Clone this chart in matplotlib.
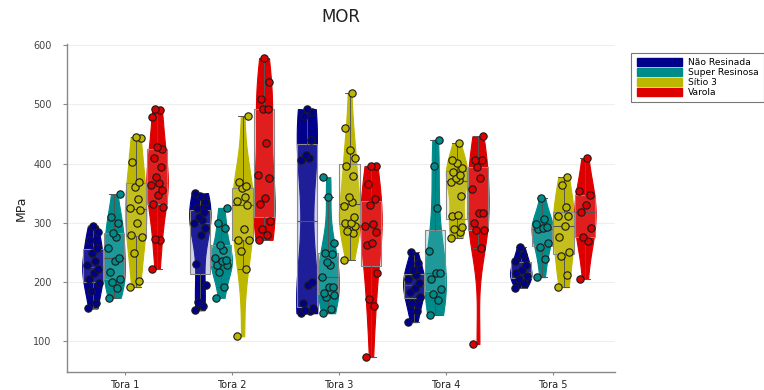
import numpy as np
import matplotlib
matplotlib.use("Agg")
import matplotlib.pyplot as plt
from matplotlib.patches import Patch
from matplotlib.colors import to_rgb

categories = ["Tora 1", "Tora 2", "Tora 3", "Tora 4", "Tora 5"]
series_names = ["Não Resinada", "Super Resinosa", "Sítio 3", "Varola"]
series_colors = ["#00008B", "#008B8B", "#BDB700", "#DD0000"]

nao_resinada = [
    [155, 165, 185, 198, 205, 215, 222, 228, 235, 248, 258, 270, 285, 295],
    [152, 160, 166, 195, 231, 280, 291, 299, 305, 310, 318, 325, 335, 345, 350],
    [147, 150, 152, 155, 165, 195, 200, 406, 410, 414, 440, 480, 488, 492],
    [132, 150, 165, 175, 183, 190, 198, 205, 212, 220, 232, 250],
    [190, 198, 205, 210, 215, 220, 228, 235, 245, 259],
]
super_resinosa = [
    [173, 190, 200, 205, 217, 235, 240, 257, 275, 282, 300, 309, 348],
    [173, 191, 216, 229, 229, 235, 237, 240, 254, 262, 291, 300, 325],
    [147, 154, 174, 178, 181, 191, 191, 208, 228, 234, 247, 249, 266, 344, 377],
    [144, 169, 180, 188, 205, 215, 215, 252, 325, 396, 440],
    [208, 239, 259, 266, 289, 291, 293, 297, 306, 342],
]
sitio_3 = [
    [191, 201, 249, 276, 279, 299, 321, 325, 340, 360, 369, 402, 443, 445],
    [108, 222, 252, 271, 271, 289, 330, 337, 343, 359, 362, 369, 480],
    [237, 282, 286, 294, 299, 299, 310, 328, 335, 344, 379, 396, 410, 423, 460, 519],
    [274, 284, 290, 293, 311, 313, 345, 368, 372, 376, 380, 386, 392, 401, 406, 434],
    [191, 211, 243, 251, 276, 295, 311, 311, 326, 364, 377],
]
varola = [
    [222, 270, 272, 326, 331, 347, 355, 364, 367, 377, 394, 409, 424, 428, 478, 490, 492],
    [271, 280, 289, 303, 331, 341, 375, 380, 434, 492, 492, 509, 538, 578],
    [73, 159, 171, 215, 262, 266, 284, 294, 298, 330, 340, 365, 396, 396],
    [95, 257, 288, 288, 300, 316, 316, 357, 375, 395, 406, 406, 446],
    [205, 269, 276, 291, 318, 330, 347, 353, 409],
]
all_series = [nao_resinada, super_resinosa, sitio_3, varola]
yticks = [100, 200, 300, 400, 500, 600]

fig = plt.figure(figsize=(7.64, 3.90), dpi=100)
ax = fig.add_axes([0.0877, 0.046, 0.717, 0.841])

slot = 0.2
jit = [-0.05, 0.03, -0.02, 0.055, -0.04, 0.01, 0.045, -0.055, 0.02, -0.01, 0.035, -0.03, 0.05, 0.0, -0.045, 0.025, -0.015]

for j, (series, col) in enumerate(zip(all_series, series_colors)):
    rgb = np.array(to_rgb(col))
    light = 0.6 * rgb + 0.4 * np.ones(3)
    positions = [i + (j - 1.5) * slot for i in range(len(categories))]
    vp = ax.violinplot(series, positions=positions, widths=slot, showextrema=False,
                       showmeans=False, showmedians=False)
    for body in vp["bodies"]:
        body.set_facecolor(col)
        body.set_edgecolor(col)
        body.set_alpha(1.0)
        body.set_linewidth(0.8)
        body.set_zorder(2)
    ax.boxplot(series, positions=positions, widths=slot * 0.95, patch_artist=True,
               showfliers=False, zorder=3,
               boxprops=dict(facecolor=(*light, 0.3), edgecolor="#8a8a8a", linewidth=0.8),
               medianprops=dict(color="#555555", linewidth=0.8),
               whiskerprops=dict(color="#555555", linewidth=0.7),
               capprops=dict(color="#555555", linewidth=0.7),
               manage_ticks=False)
    for i, vals in enumerate(series):
        xs = [positions[i] + jit[k % len(jit)] for k in range(len(vals))]
        ax.scatter(xs, vals, s=28, facecolor=col, edgecolor="#1a1a1a", linewidth=0.8, zorder=4)

ax.set_xlim(-0.542, 4.579)
ax.set_ylim(47.5, 602)
ax.set_xticks(range(len(categories)))
ax.set_xticklabels(categories, fontsize=7, color="#222222")
ax.set_yticks(yticks)
ax.set_yticklabels([str(t) for t in yticks], fontsize=7, color="#444444")
ax.tick_params(axis="y", length=3, color="#888888", pad=8)
ax.tick_params(axis="x", length=2, color="#888888")
ax.grid(axis="y", color="#eeeeee", linewidth=0.8, zorder=0)
ax.set_axisbelow(True)
for s in ["top", "right"]:
    ax.spines[s].set_visible(False)
for s in ["left", "bottom"]:
    ax.spines[s].set_color("#888888")
    ax.spines[s].set_linewidth(1.0)
ax.set_ylabel("MPa", fontsize=9, color="#222222")
ax.set_title("MOR", fontsize=12, color="#222222", pad=16)

handles = [Patch(facecolor=c, edgecolor=c) for c in series_colors]
leg = fig.legend(handles, series_names, loc="upper left", bbox_to_anchor=(0.826, 0.865),
                 fontsize=6.6, frameon=True, fancybox=False, edgecolor="#555555",
                 handlelength=5.0, handleheight=0.9, labelspacing=0.1, handletextpad=0.6,
                 borderpad=0.6, borderaxespad=0.0)
leg.get_frame().set_linewidth(0.8)

fig.savefig("out.png", dpi=100)
